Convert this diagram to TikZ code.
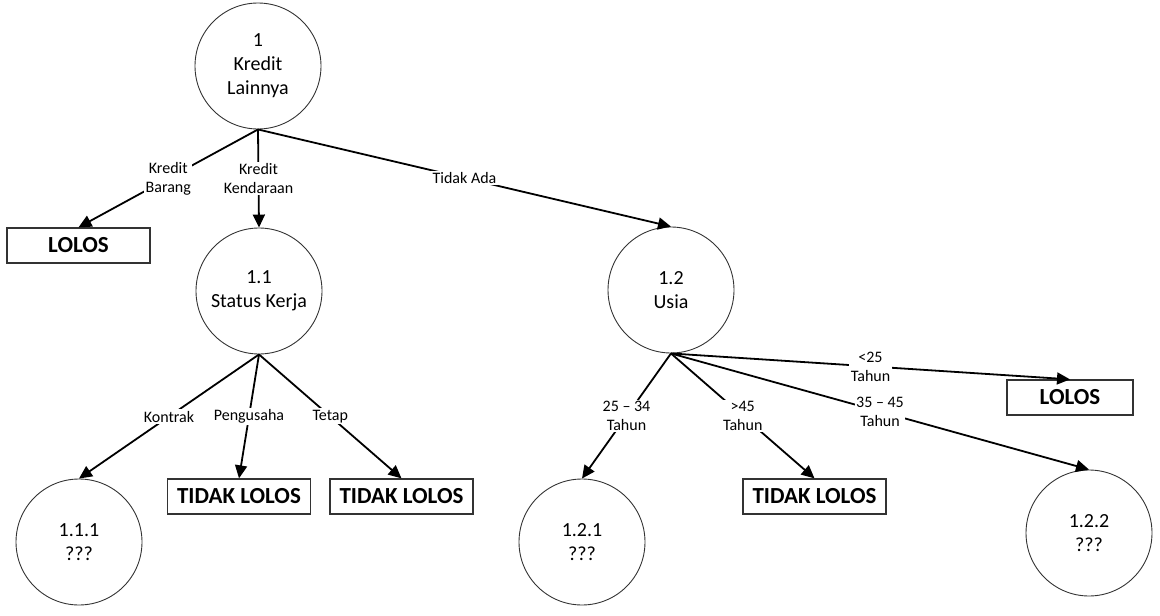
\documentclass[tikz,border=0pt]{standalone}
\usepackage{fontspec}
\setmainfont{Carlito}
\usetikzlibrary{arrows.meta,positioning}
\tikzset{
    keputusan/.style={circle,draw=black!80,line width=0.9pt,minimum size=126pt,inner sep=0pt,align=center,font=\fontsize{20}{24}\selectfont},
    hasil/.style={draw=black!80,line width=1.3pt,minimum width=143pt,minimum height=35pt,inner sep=0pt,font=\fontsize{23}{26}\selectfont\bfseries},
    cabang/.style={line width=1.8pt,-{Triangle[length=13pt,width=12pt]}},
    ket/.style={fill=white,inner sep=1.5pt,align=center,font=\fontsize{16}{19}\selectfont}
}

\begin{document}
\begin{tikzpicture}[x=1pt,y=-1pt]
    \useasboundingbox (0,0) rectangle (1160,616);
    \node[keputusan] (k1) at (258,66) {1\\Kredit\\Lainnya};
    \node[hasil] (lolosA) at (78.5,245.5) {LOLOS};
    \node[keputusan] (k11) at (259,291) {1.1\\Status Kerja};
    \node[keputusan] (k12) at (671,290) {1.2\\Usia};
    \node[keputusan] (k111) at (79,542) {1.1.1\\???};
    \node[hasil] (tidakA) at (239,496.5) {TIDAK LOLOS};
    \node[hasil] (tidakB) at (401.5,496.5) {TIDAK LOLOS};
    \node[hasil,minimum width=126pt] (lolosB) at (1070,397.5) {LOLOS};
    \node[keputusan] (k121) at (582,542) {1.2.1\\???};
    \node[hasil] (tidakC) at (814.5,496.5) {TIDAK LOLOS};
    \node[keputusan] (k122) at (1089,533) {1.2.2\\???};

    \draw[cabang] (k1.south) -- node[ket] {Kredit\\Barang} (lolosA.north);
    \draw[cabang] (k1.south) -- node[ket] {Kredit\\Kendaraan} (k11.north);
    \draw[cabang] (k1.south) -- node[ket] {Tidak Ada} (k12.north);
    \draw[cabang] (k11.south) -- node[ket] {Kontrak} (k111.north);
    \draw[cabang] (k11.south) -- node[ket] {Pengusaha} (tidakA.north);
    \draw[cabang] (k11.south) -- node[ket] {Tetap} (tidakB.north);
    \draw[cabang] (k12.south) -- node[ket] {<25\\Tahun} (lolosB.north);
    \draw[cabang] (k12.south) -- node[ket] {25 -- 34\\Tahun} (k121.north);
    \draw[cabang] (k12.south) -- node[ket] {>45\\Tahun} (tidakC.north);
    \draw[cabang] (k12.south) -- node[ket] {35 -- 45\\Tahun} (k122.north);
\end{tikzpicture}
\end{document}
